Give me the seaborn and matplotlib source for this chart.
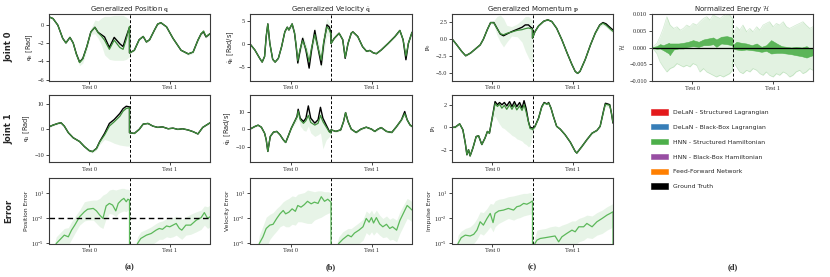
import numpy as np
import seaborn as sns
import matplotlib
matplotlib.use("Agg")
import matplotlib.pyplot as plt
from matplotlib.patches import Patch
from matplotlib.ticker import NullLocator

# time axis: 0-100 = Test 0, 100-200 = Test 1 (percent of each test)

# ---- joint 0 position q0
q0_t = [0, 5, 11, 17, 21, 26, 30, 34, 38, 42, 47, 52, 57, 61, 65, 69, 75, 81, 88, 92, 96, 100,
        100, 106, 112, 117, 121, 125, 131, 135, 139, 146, 154, 164, 173, 179, 185, 189, 192, 195, 200]
q0_true = [0.84, 0.65, -0.07, -1.5, -2.0, -1.4, -2.0, -3.2, -4.1, -3.7, -2.4, -0.8, -0.3, -0.85, -1.1, -1.35, -2.5, -1.4, -2.1, -2.4, -1.3, -0.3,
           -3.1, -2.8, -1.65, -1.3, -1.9, -1.65, -0.6, 0.05, 0.2, -0.25, -1.5, -2.8, -3.2, -3.0, -1.7, -1.0, -0.8, -1.35, -1.0]
q0_pred = [0.84, 0.65, -0.07, -1.5, -2.0, -1.4, -2.0, -3.25, -4.15, -3.75, -2.4, -0.8, -0.3, -0.9, -1.25, -1.7, -2.7, -1.7, -2.5, -2.7, -1.6, -0.2,
           -3.1, -2.8, -1.65, -1.3, -1.9, -1.65, -0.6, 0.05, 0.2, -0.25, -1.5, -2.8, -3.2, -3.0, -1.7, -1.0, -0.7, -1.3, -1.0]
q0_lo = [0.75, 0.55, -0.15, -1.6, -2.1, -1.5, -2.1, -3.4, -4.5, -4.2, -2.8, -1.1, -1.0, -1.5, -2.2, -3.3, -3.8, -3.9, -3.9, -3.9, -3.8, -3.5,
         -3.2, -2.9, -1.75, -1.4, -2.0, -1.75, -0.7, -0.05, 0.1, -0.35, -1.6, -2.9, -3.35, -3.15, -1.85, -1.2, -1.0, -1.5, -1.15]
q0_hi = [0.9, 0.75, 0.0, -1.4, -1.9, -1.3, -1.9, -3.0, -3.8, -3.3, -2.1, -0.45, 0.5, 0.4, 0.7, 0.9, 0.9, 1.0, 1.0, 1.0, 0.8, 0.5,
         -3.0, -2.7, -1.55, -1.2, -1.8, -1.55, -0.5, 0.15, 0.3, -0.15, -1.4, -2.7, -3.05, -2.85, -1.55, -0.85, -0.55, -1.2, -0.85]

# ---- joint 1 position q1
q1_t = [0, 5, 11, 15, 19, 24, 30, 38, 44, 50, 54, 59, 63, 69, 75, 81, 88, 92, 96, 100,
        100, 106, 112, 117, 123, 129, 135, 141, 148, 154, 160, 166, 173, 179, 185, 191, 200]
q1_true = [1.0, 1.7, 2.35, 2.6, 1.3, -1.3, -3.3, -4.8, -6.8, -8.4, -8.8, -7.5, -4.8, -1.6, 2.35, 3.9, 6.3, 8.2, 9.15, 8.9,
           -1.3, -1.6, 0.0, 2.1, 2.35, 1.3, 0.8, 1.0, 0.25, 0.5, 0.0, 0.25, -0.25, -0.9, -1.8, 0.8, 2.6]
q1_pred = [1.0, 1.7, 2.35, 2.6, 1.3, -1.3, -3.3, -4.8, -6.8, -8.4, -8.8, -7.6, -5.0, -2.2, 1.3, 3.0, 5.2, 7.2, 8.3, 8.5,
           -1.3, -1.6, 0.0, 2.1, 2.35, 1.3, 0.8, 1.0, 0.25, 0.5, 0.0, 0.25, -0.25, -0.9, -1.8, 0.8, 2.6]
q1_lo = [0.7, 1.4, 2.0, 2.3, 1.0, -1.6, -3.6, -5.2, -7.2, -8.9, -9.3, -8.2, -6.0, -4.0, -4.6, -5.5, -6.2, -6.4, -6.6, -6.6,
         -1.5, -1.8, -0.2, 1.9, 2.15, 1.1, 0.6, 0.8, 0.05, 0.3, -0.2, 0.05, -0.45, -1.1, -2.0, 0.6, 2.3]
q1_hi = [1.3, 2.0, 2.7, 2.9, 1.6, -1.0, -3.0, -4.4, -6.4, -7.9, -8.3, -6.9, -4.4, -1.2, 2.6, 4.2, 6.6, 8.5, 9.3, 9.1,
         -1.1, -1.4, 0.2, 2.3, 2.55, 1.5, 1.0, 1.2, 0.45, 0.7, 0.2, 0.45, -0.05, -0.7, -1.6, 1.0, 2.9]

# ---- position error (log10)
perr_t = [0, 7, 9, 15, 19, 24, 28, 32, 38, 44, 48, 55, 59, 63, 67, 71, 75, 79, 83, 86, 90, 93, 96, 98, 100,
          100, 108, 110, 114, 121, 127, 133, 137, 141, 146, 150, 154, 158, 162, 165, 170, 176, 183, 189, 193, 197, 200]
perr_pred = [-6, -6, -5, -4.4, -4.0, -4.2, -3.4, -2.8, -1.8, -1.2, -0.9, -0.8, -1.1, -1.6, -2.0, -0.5, -0.2, -0.4, -1.1, -0.2, 0.2, 0.4, 0.0, 0.3, 0.2,
             -6, -6, -5, -4.4, -4.0, -3.8, -3.4, -3.2, -3.3, -2.9, -3.0, -2.8, -2.6, -3.2, -3.4, -2.8, -2.8, -2.2, -1.9, -1.3, -2.0, -1.8]
perr_lo = [-6, -6, -6, -6, -5.5, -5.2, -4.5, -3.8, -2.8, -2.3, -2.2, -2.2, -2.6, -3.0, -3.2, -2.0, -1.4, -1.5, -1.8, -1.4, -1.2, -1.1, -1.2, -1.0, -1.0,
           -6, -6, -6, -6, -5.5, -5.2, -4.8, -4.5, -4.5, -4.2, -4.3, -4.2, -4.0, -4.3, -4.5, -4.0, -3.9, -3.6, -3.3, -2.8, -3.2, -3.0]
perr_hi = [-6, -5, -4.2, -3.6, -3.2, -3.1, -2.4, -1.8, -1.0, 0.0, 0.1, 0.2, 0.2, 0.4, 0.8, 1.0, 1.4, 1.5, 1.4, 1.5, 1.6, 1.6, 1.5, 1.5, 1.4,
           -6, -5, -4.2, -3.6, -3.3, -3.0, -2.6, -2.4, -2.3, -2.0, -2.1, -1.9, -1.7, -2.0, -2.1, -1.8, -1.5, -1.2, -1.0, -0.5, -0.6, -0.4]
perr_threshold = 1e-2

# ---- joint 0 velocity
qd0_t = [0, 6, 12, 15, 18, 20, 22, 24.5, 28, 31, 35, 39, 43, 46, 48, 52, 55, 57, 59, 62, 65, 69, 73, 76, 80, 82, 88, 91, 95, 98, 100,
         100, 104, 110, 114.5, 117.5, 121, 125, 127, 133, 139, 144, 148, 152, 156, 162, 170.5, 179, 185, 189, 192.5, 195.5, 200]
qd0_true = [0, -1.3, -3.1, -3.9, -2.7, 1.6, 4.3, 0.1, -3.3, -3.9, -3.1, -0.6, 2.6, 3.6, 3.0, 4.3, 2.3, -0.6, -4.1, -1.3, 1.2, -1.3, -5.2, -1.3, 2.9, 0.9, -4.5, 0.1, 4.1, 3.6, 2.3,
            0.1, 1.2, 2.3, 0.9, -3.1, 0.1, 2.3, 2.6, 1.6, -0.6, -1.6, -1.4, -1.9, -2.1, -1.3, 0.1, 1.6, 2.9, 0.9, -3.4, 0.1, 2.5]
qd0_pred = [0, -1.3, -3.1, -3.9, -2.7, 1.6, 4.3, 0.1, -3.3, -3.9, -3.1, -0.6, 2.6, 3.6, 3.0, 4.3, 2.3, -0.4, -3.6, -1.0, 0.7, -1.0, -3.8, -0.8, 2.0, 0.5, -3.5, 0.5, 3.7, 3.0, 2.0,
            0.1, 1.2, 2.3, 0.9, -2.9, 0.1, 2.3, 2.6, 1.6, -0.6, -1.6, -1.4, -1.9, -2.1, -1.3, 0.1, 1.6, 2.9, 0.9, -2.6, 0.1, 2.5]
qd0_spread = [0.15, 0.15, 0.15, 0.15, 0.15, 0.15, 0.2, 0.15, 0.15, 0.15, 0.15, 0.15, 0.2, 0.3, 0.3, 0.4, 0.8, 1.0, 1.2, 1.0, 1.2, 1.2, 1.5, 1.2, 1.5, 1.5, 1.8, 2.5, 1.8, 1.5, 1.5,
              0.15, 0.15, 0.15, 0.2, 0.3, 0.2, 0.15, 0.15, 0.15, 0.15, 0.15, 0.15, 0.15, 0.15, 0.15, 0.15, 0.2, 0.3, 0.3, 0.6, 0.3, 0.3]

# ---- joint 1 velocity
qd1_t = [0, 6, 10, 14, 18, 20, 22, 25, 29, 33, 37, 41, 44, 47, 51, 55, 58, 59.5, 62, 66, 69, 72, 75, 80, 84, 87, 90, 94, 98, 100,
         100, 106, 112, 115.5, 118, 121, 125, 131, 137, 143.5, 150, 154, 158, 162, 168.5, 175, 181, 187, 191, 194, 197.5, 200]
qd1_true = [0.2, 1.7, 2.45, 1.3, -2.1, -5.8, -12.5, -4.0, -1.5, -1.1, -3.0, -5.8, -7.4, -4.0, 0.75, 4.5, 7.4, 11.5, 6.4, 4.5, 6.4, 13.4, 6.4, 3.6, 5.5, 12.6, 6.4, 2.6, -1.1, -1.7,
            -0.2, -1.1, -0.2, 4.5, 9.6, 4.5, 0.2, -1.7, 0.2, 1.3, 0.2, -1.1, 0.2, 1.1, -1.1, -1.7, 1.7, 5.5, 10.2, 5.5, 2.6, 1.7]
qd1_pred = [0.2, 1.7, 2.45, 1.3, -2.1, -5.8, -12.5, -4.0, -1.5, -1.1, -3.0, -5.8, -7.4, -4.0, 0.75, 4.5, 7.0, 10.5, 5.5, 3.5, 5.0, 8.0, 4.0, 2.5, 3.5, 8.0, 4.5, 1.5, -1.5, -2.0,
            -0.2, -1.1, -0.2, 4.5, 9.6, 4.5, 0.2, -1.7, 0.2, 1.3, 0.2, -1.1, 0.2, 1.1, -1.1, -1.7, 1.7, 5.5, 9.0, 5.5, 2.6, 1.7]
qd1_lo = [-0.2, 1.3, 2.05, 0.9, -2.5, -6.2, -12.9, -4.4, -1.9, -1.5, -3.4, -6.2, -7.8, -4.8, 0.0, 3.0, 5.0, 7.5, 2.0, -0.5, -1.0, 2.0, -2.0, -4.0, -3.0, -2.0, -11.0, -6.0, -4.0, -3.0,
          -0.8, -1.7, -0.8, 3.9, 9.0, 3.9, -0.4, -2.3, -0.4, 0.7, -0.4, -1.7, -0.4, 0.5, -1.7, -2.3, 1.1, 4.7, 7.8, 4.7, 1.8, 0.9]
qd1_hi = [0.6, 2.1, 2.85, 1.7, -1.7, -5.4, -12.1, -3.6, -1.1, -0.7, -2.6, -5.4, -7.0, -3.2, 1.5, 5.0, 8.0, 12.0, 7.0, 5.5, 7.0, 12.0, 7.0, 4.5, 6.0, 12.0, 7.0, 3.0, -0.5, -1.5,
          0.4, -0.5, 0.4, 5.1, 10.2, 5.1, 0.8, -1.1, 0.8, 1.9, 0.8, -0.5, 0.8, 1.7, -0.5, -1.1, 2.3, 6.3, 10.6, 6.3, 3.4, 2.5]

# ---- velocity error (log10)
verr_t = [0, 10, 11.5, 16, 20, 24.5, 28.5, 33, 37, 41, 44, 48, 52, 56, 59, 63, 67, 71, 75.5, 79.5, 84, 88, 92, 96, 100,
          100, 106, 109.5, 114.5, 121, 125, 129, 134.5, 139.5, 143.5, 147, 150, 152.5, 156, 160, 164, 168.5, 172.5, 176, 181, 185, 190, 194, 197.5, 200]
verr_pred = [-6, -6, -5, -4.2, -3.2, -2.8, -2.7, -2.0, -1.45, -1.05, -1.45, -1.25, -0.85, -1.15, -0.45, -0.65, -0.35, 0.05, -0.25, -0.05, -0.2, 0.6, 0.05, 0.3, -0.05,
             -6, -6, -5, -4.5, -4.0, -4.2, -3.75, -3.4, -3.0, -2.0, -2.45, -1.9, -2.55, -1.9, -2.65, -3.0, -2.7, -3.2, -3.0, -3.4, -2.25, -1.25, -0.45, -0.75, -1.0]
verr_lo = [-6, -6, -6, -6, -5.5, -4.5, -4.0, -3.5, -3.0, -2.8, -3.0, -3.0, -2.7, -2.8, -2.4, -2.4, -2.5, -2.6, -2.6, -2.2, -2.0, -1.85, -1.6, -1.4, -1.25,
           -6, -6, -6, -6, -6, -6, -5.5, -5.0, -4.6, -3.7, -4.0, -3.6, -4.0, -3.6, -4.0, -4.3, -4.2, -4.6, -4.5, -4.8, -3.8, -2.8, -2.0, -2.2, -2.4]
verr_hi = [-6, -5, -4.0, -2.9, -1.85, -1.5, -1.3, -0.8, -0.45, 0.0, 0.2, 0.4, 0.7, 0.6, 0.9, 1.0, 1.1, 1.4, 1.3, 1.2, 1.3, 1.3, 1.2, 1.2, 1.1,
           -6, -5.5, -4.2, -3.6, -3.2, -3.2, -2.9, -2.5, -2.1, -1.1, -1.4, -1.0, -1.5, -1.0, -1.6, -2.0, -1.7, -2.1, -1.9, -2.2, -1.2, -0.3, 0.4, 0.2, 0.0]

# ---- joint 0 momentum
p0_t = [0, 6, 12, 17, 23, 29, 35, 39, 44, 48, 52, 56, 60, 64, 68, 74, 81, 87, 91, 95, 98, 100,
        100, 103, 107.5, 114, 119, 124, 130, 136.5, 143, 149, 153, 156, 159, 165.5, 172, 178, 183.5, 187.5, 191.5, 196, 200]
p0_true = [0, -0.9, -1.85, -2.5, -2.1, -1.5, -0.9, -0.05, 1.4, 2.4, 2.4, 1.55, 0.7, 0.45, 0.7, 1.05, 1.4, 1.7, 2.05, 2.05, 1.7, 1.55,
           0.1, 1.05, 1.9, 2.6, 2.8, 2.55, 1.55, -0.15, -2.1, -3.8, -4.8, -5.1, -4.8, -3.05, -0.9, 0.85, 2.05, 2.4, 2.2, 1.7, 1.3]
p0_pred = [0, -0.9, -1.85, -2.5, -2.1, -1.5, -0.9, -0.05, 1.4, 2.4, 2.35, 1.5, 0.75, 0.6, 0.8, 1.0, 1.25, 1.35, 1.5, 1.6, 1.5, 1.4,
           0.1, 1.05, 1.9, 2.6, 2.8, 2.55, 1.55, -0.15, -2.1, -3.8, -4.8, -5.1, -4.8, -3.05, -0.9, 0.85, 2.0, 2.3, 2.0, 1.5, 1.1]
p0_lo = [-0.1, -1.0, -1.95, -2.6, -2.2, -1.6, -1.0, -0.15, 1.3, 2.3, 2.0, 0.5, -0.5, -1.2, -0.5, 0.4, 0.3, -0.5, -1.8, -2.8, -3.5, -4.0,
         0.0, 0.95, 1.8, 2.5, 2.7, 2.45, 1.45, -0.25, -2.2, -3.9, -4.9, -5.2, -4.9, -3.15, -1.0, 0.7, 1.7, 2.0, 1.7, 1.2, 0.8]
p0_hi = [0.1, -0.8, -1.75, -2.4, -2.0, -1.4, -0.8, 0.05, 1.5, 2.5, 2.7, 3.3, 3.5, 3.0, 2.0, 1.8, 2.2, 2.8, 3.3, 3.3, 3.0, 2.6,
         0.2, 1.15, 2.0, 2.7, 2.9, 2.65, 1.65, -0.05, -2.0, -3.7, -4.7, -5.0, -4.7, -2.95, -0.8, 1.0, 2.3, 2.6, 2.4, 1.9, 1.5]

# ---- joint 1 momentum
p1_t = [0, 4, 9.5, 13.5, 16.5, 18.5, 20.5, 22.5, 26, 30, 33, 37, 41, 44, 46.5, 49.5, 53.5, 56.5, 59, 62, 65, 68, 71.5, 74.5, 77.5, 80.5, 84, 87, 89.5, 92, 95, 97, 100,
        100, 103, 107.5, 111.5, 114.5, 118, 120, 123, 126, 130, 134.5, 140.5, 147, 153, 155, 161.5, 167.5, 174, 180, 184, 188.5, 190.5, 193.5, 196, 198, 200]
p1_true = [0, 0.03, 0.32, -0.2, -1.37, -2.4, -1.95, -2.5, -1.8, -0.8, -0.73, -1.5, -0.93, -0.35, -0.5, 0.67, 2.28, 2.0, 2.2, 2.0, 2.2, 1.9, 2.28, 1.84, 2.28, 1.84, 2.2, 1.7, 2.36, 1.7, 0.5, 0.03, -0.06,
           -0.06, 0.1, 0.82, 1.84, 2.2, 2.07, 2.2, 1.7, 0.96, 0.1, -0.15, -0.64, -1.3, -2.1, -2.25, -1.66, -1.08, -0.5, -0.26, 0.1, 1.55, 2.13, 2.07, 2.0, 1.26, 0.38]
p1_pred = [0, 0.03, 0.32, -0.2, -1.37, -2.4, -1.95, -2.5, -1.8, -0.8, -0.73, -1.5, -0.93, -0.35, -0.5, 0.67, 2.1, 1.85, 2.05, 1.7, 1.95, 1.6, 2.0, 1.6, 2.0, 1.55, 1.9, 1.5, 2.0, 1.4, 0.5, -0.1, -0.15,
           -0.2, 0.05, 0.8, 1.8, 2.15, 2.05, 2.15, 1.7, 0.96, 0.1, -0.15, -0.64, -1.3, -2.1, -2.25, -1.66, -1.08, -0.5, -0.26, 0.1, 1.5, 2.05, 2.0, 1.95, 1.3, 0.45]
p1_lo = [-0.1, -0.07, 0.22, -0.3, -1.47, -2.5, -2.05, -2.6, -1.9, -0.9, -0.83, -1.6, -1.03, -0.45, -0.6, 0.57, 1.0, 0.6, 0.3, 0.0, -0.1, -0.3, -0.5, -0.7, -0.8, -1.0, -1.1, -1.2, -1.4, -1.5, -1.7, -1.6, -0.5,
         -0.28, -0.03, 0.72, 1.72, 2.07, 1.97, 2.07, 1.62, 0.88, 0.02, -0.23, -0.72, -1.38, -2.18, -2.33, -1.74, -1.16, -0.58, -0.34, 0.0, 1.3, 1.85, 1.8, 1.75, 1.1, 0.25]
p1_hi = [0.1, 0.13, 0.42, -0.1, -1.27, -2.3, -1.85, -2.4, -1.7, -0.7, -0.63, -1.4, -0.83, -0.25, -0.4, 0.77, 2.38, 2.1, 2.3, 2.1, 2.3, 2.0, 2.38, 1.94, 2.38, 1.94, 2.3, 1.8, 2.46, 1.8, 0.6, 0.13, 0.04,
         -0.12, 0.13, 0.88, 1.88, 2.23, 2.13, 2.23, 1.78, 1.04, 0.18, -0.07, -0.56, -1.22, -2.02, -2.17, -1.58, -1.0, -0.42, -0.18, 0.2, 1.7, 2.25, 2.2, 2.15, 1.5, 0.65]

# ---- impulse error (log10)
ierr_t = [0, 6, 7.5, 11.5, 16.5, 22.5, 27, 31, 35, 39, 43.5, 47.5, 51, 53.5, 58, 64, 70, 76.5, 80.5, 84.5, 89, 93, 97, 100,
          100, 103, 105.5, 109.5, 116, 122, 128, 132.5, 136.5, 142.5, 149, 153, 157.5, 163.5, 167.5, 174, 180, 186.5, 192.5, 196.5, 200, 200]
ierr_pred = [-6, -6, -5, -4.3, -4.0, -4.1, -3.9, -3.4, -2.4, -2.8, -2.0, -1.4, -2.5, -1.4, -1.1, -1.0, -0.8, -1.0, -0.6, -0.5, -0.2, -0.3, -0.1, 0.1,
             -6, -5, -4.6, -4.4, -4.3, -4.2, -4.1, -4.8, -4.2, -3.8, -3.4, -3.6, -3.0, -3.0, -2.6, -3.0, -2.4, -2.0, -1.6, -1.4, -1.2, -6]
ierr_lo = [-6, -6, -6, -6, -5.5, -5.2, -5.0, -4.5, -3.8, -4.0, -3.5, -3.0, -3.6, -3.0, -2.6, -2.3, -2.0, -2.2, -2.0, -1.9, -1.7, -1.6, -1.5, -1.4,
           -6, -6, -6, -6, -6, -6, -6, -6, -6, -5.5, -5.2, -5.2, -4.8, -4.6, -4.3, -4.4, -4.0, -3.8, -3.4, -3.2, -3.0, -6]
ierr_hi = [-6, -5, -4.0, -3.5, -3.2, -3.0, -2.6, -2.0, -1.2, -1.3, -0.8, -0.2, -0.3, 0.1, 0.3, 0.4, 0.6, 0.7, 0.8, 0.9, 1.0, 1.0, 1.1, 1.1,
           -6, -4.2, -3.4, -3.3, -3.2, -3.0, -2.9, -3.0, -2.8, -2.6, -2.3, -2.3, -2.0, -1.8, -1.6, -1.7, -1.3, -1.0, -0.6, -0.4, -0.2, -6]

# ---- normalized energy
en_true_t = [0, 200]
en_true = [0.0, 0.0]
en_core_t = [0, 6, 10, 14, 21, 22, 27, 33, 39, 45, 51, 58, 64, 70, 76, 80, 86, 93, 99, 100,
             100, 105, 111, 117, 124, 130, 136, 142, 148, 155, 161, 167, 173, 179, 186, 192, 196, 200]
en_core_hi = [0.0001, 0.0004, 0.001, 0.0007, 0.0014, 0.0012, 0.0012, 0.0012, 0.0014, 0.0017, 0.0022, 0.0017, 0.0024, 0.0027, 0.003, 0.0024, 0.0032, 0.0034, 0.003, 0.0027,
              0.0007, 0.0017, 0.0014, 0.0012, 0.0007, 0.0012, 0.0002, 0.0007, 0.0022, 0.0012, 0.0004, 0.0002, 0.0, 0.0002, 0.0, 0.0004, -0.0003, 0.0]
en_core_lo = [-0.0001, -0.0004, -0.0003, -0.0008, -0.0018, -0.0023, -0.0006, -0.0003, -0.0003, 0.0002, 0.0004, 0.0002, 0.0007, 0.0007, 0.001, 0.0002, 0.0012, 0.001, 0.0007, 0.0004,
              -0.0003, -0.0006, -0.0008, -0.0006, -0.0008, -0.001, -0.0013, -0.001, -0.0018, -0.0016, -0.0016, -0.0018, -0.002, -0.0023, -0.0026, -0.003, -0.0026, -0.0023]
en_band_t = [0, 6, 10, 14, 18.5, 22.5, 27, 31, 35, 39, 43, 47, 51, 55.5, 59.5, 64, 68, 72, 76, 80, 84.5, 88.5, 92.5, 96.5, 100,
             100, 105, 109, 113, 117.5, 121.5, 125.5, 130, 134, 138, 142, 146, 150.5, 154.5, 158.5, 163, 167, 171, 175, 179, 183.5, 187.5, 191.5, 196, 200]
en_band_hi = [0, 0.0012, 0.0032, 0.0057, 0.0092, 0.0067, 0.0057, 0.0062, 0.0052, 0.0057, 0.0067, 0.0062, 0.0072, 0.0067, 0.0077, 0.0087, 0.0092, 0.0082, 0.0097, 0.0092, 0.0087, 0.0094, 0.0100, 0.0097, 0.0087,
              0.0032, 0.0062, 0.0052, 0.0067, 0.0047, 0.0057, 0.0047, 0.0062, 0.0052, 0.0067, 0.0072, 0.0077, 0.0062, 0.0072, 0.0067, 0.0077, 0.0062, 0.0057, 0.0062, 0.0067, 0.0072, 0.0077, 0.0067, 0.0057, 0.0062]
en_band_lo = [0, -0.0018, -0.0043, -0.0058, -0.0073, -0.0063, -0.0058, -0.0048, -0.0053, -0.0058, -0.0053, -0.0058, -0.0048, -0.0053, -0.0073, -0.0063, -0.0073, -0.0078, -0.0083, -0.0088, -0.0083, -0.0088, -0.0083, -0.0078, -0.0068,
              -0.0038, -0.0058, -0.0073, -0.0078, -0.0068, -0.0073, -0.0063, -0.0068, -0.0078, -0.0083, -0.0073, -0.0083, -0.0088, -0.0078, -0.0083, -0.0073, -0.0078, -0.0088, -0.0083, -0.0073, -0.0068, -0.0078, -0.0073, -0.0063, -0.0068]

legend_labels = ["DeLaN - Structured Lagrangian", "DeLaN - Black-Box Lagrangian",
                 "HNN - Structured Hamiltonian", "HNN - Black-Box Hamiltonian",
                 "Feed-Forward Network", "Ground Truth"]
legend_colors = ["#e41a1c", "#377eb8", "#4daf4a", "#984ea3", "#ff7f00", "black"]

sns.set_style("ticks")
plt.rcParams["font.family"] = ["Liberation Serif"]
plt.rcParams["mathtext.fontset"] = "cm"

GREEN = "#4daf4a"
GREEN_LINE = "#3e8e3b"
SANS = "DejaVu Sans"

fig = plt.figure(figsize=(8.3, 2.77), dpi=100)
W, H = 830, 277


def add_ax(left, top, w, h):
    return fig.add_axes([left / W, 1 - (top + h) / H, w / W, h / H])


def finish(ax, ylim, yticks, ylabel, title=None, ylab_size=4.8):
    ax.set_xlim(0, 200)
    ax.set_ylim(*ylim)
    ax.set_xticks([50, 150], ["Test 0", "Test 1"])
    ax.set_yticks(yticks)
    ax.axvline(100, color="black", lw=0.7, ls=(0, (3, 2)), zorder=1.5)
    ax.tick_params(labelsize=4.5, length=2, width=0.6, pad=1.5)
    ax.set_ylabel(ylabel, fontsize=ylab_size, family=SANS, labelpad=2)
    for s in ax.spines.values():
        s.set_linewidth(0.8)
        s.set_color("#3a3a3a")
    if title:
        ax.set_title(title, fontsize=5, family=SANS, pad=2)


def state_panel(ax, t, truth, pred, lo, hi):
    ax.fill_between(t, lo, hi, color=GREEN, alpha=0.13, lw=0)
    sns.lineplot(x=t, y=truth, ax=ax, color="black", lw=1.0, sort=False, estimator=None)
    sns.lineplot(x=t, y=pred, ax=ax, color=GREEN_LINE, lw=0.9, sort=False, estimator=None)


def error_panel(ax, t, pred, lo, hi):
    ax.set_yscale("log")
    ax.fill_between(t, 10.0 ** np.array(lo), 10.0 ** np.array(hi), color=GREEN, alpha=0.13, lw=0)
    sns.lineplot(x=t, y=10.0 ** np.array(pred), ax=ax, color="#5cb85a", lw=0.9, sort=False, estimator=None)


cols = [49, 250, 452, 652]
widths = [161, 162, 161, 161]
tops = [14, 95, 177.5]
heights = [66.5, 67, 66]

# column (a)
ax = add_ax(cols[0], tops[0], widths[0], heights[0])
state_panel(ax, q0_t, q0_true, q0_pred, q0_lo, q0_hi)
finish(ax, (-6.1, 1.15), [-6, -4, -2, 0], r"$\mathbf{q}_0$ [Rad]", r"Generalized Position $\mathbf{q}$")

ax = add_ax(cols[0], tops[1], widths[0], heights[1])
state_panel(ax, q1_t, q1_true, q1_pred, q1_lo, q1_hi)
finish(ax, (-12.9, 13.6), [-10, 0, 10], r"$\mathbf{q}_1$ [Rad]")

ax = add_ax(cols[0], tops[2], widths[0], heights[2])
error_panel(ax, perr_t, perr_pred, perr_lo, perr_hi)
ax.axhline(perr_threshold, color="black", lw=1.0, ls=(0, (4, 2.5)), zorder=3)
finish(ax, (1e-5, 10 ** 2.9), [1e-5, 1e-2, 1e1], "Position Error", ylab_size=4.3)
ax.yaxis.set_minor_locator(NullLocator())

# column (b)
ax = add_ax(cols[1], tops[0], widths[1], heights[0])
state_panel(ax, qd0_t, qd0_true, qd0_pred,
            np.subtract(qd0_pred, qd0_spread), np.add(qd0_pred, qd0_spread))
finish(ax, (-7.86, 6.43), [-5, 0, 5], r"$\dot{\mathbf{q}}_0$ [Rad/s]", r"Generalized Velocity $\dot{\mathbf{q}}$")

ax = add_ax(cols[1], tops[1], widths[1], heights[1])
state_panel(ax, qd1_t, qd1_true, qd1_pred, qd1_lo, qd1_hi)
finish(ax, (-18.5, 19.6), [-10, 0, 10], r"$\dot{\mathbf{q}}_1$ [Rad/s]")

ax = add_ax(cols[1], tops[2], widths[1], heights[2])
error_panel(ax, verr_t, verr_pred, verr_lo, verr_hi)
finish(ax, (1e-5, 10 ** 2.9), [1e-5, 1e-2, 1e1], "Velocity Error", ylab_size=4.3)
ax.yaxis.set_minor_locator(NullLocator())

# column (c)
ax = add_ax(cols[2], tops[0], widths[2], heights[0])
state_panel(ax, p0_t, p0_true, p0_pred, p0_lo, p0_hi)
finish(ax, (-6.15, 3.66), [-5, -2.5, 0, 2.5], r"$\mathbf{p}_0$", r"Generalized Momentum $\mathbf{p}$")
ax.set_yticklabels(["\u22125.0", "\u22122.5", "0.0", "2.5"])

ax = add_ax(cols[2], tops[1], widths[2], heights[1])
state_panel(ax, p1_t, p1_true, p1_pred, p1_lo, p1_hi)
finish(ax, (-3.04, 2.86), [-2, 0, 2], r"$\mathbf{p}_1$")

ax = add_ax(cols[2], tops[2], widths[2], heights[2])
error_panel(ax, ierr_t, ierr_pred, ierr_lo, ierr_hi)
finish(ax, (1e-5, 10 ** 2.9), [1e-5, 1e-2, 1e1], "Impulse Error", ylab_size=4.3)
ax.yaxis.set_minor_locator(NullLocator())

# column (d)
ax = add_ax(cols[3], 14, widths[3], 67)
ax.fill_between(en_band_t, en_band_lo, en_band_hi, color=GREEN, alpha=0.16, lw=0)
ax.plot(en_band_t, en_band_hi, color=GREEN, alpha=0.25, lw=0.5)
ax.plot(en_band_t, en_band_lo, color=GREEN, alpha=0.25, lw=0.5)
ax.fill_between(en_core_t, en_core_lo, en_core_hi, color=GREEN, alpha=0.9, lw=0.4)
sns.lineplot(x=en_true_t, y=en_true, ax=ax, color="black", lw=0.9, estimator=None)
finish(ax, (-0.01, 0.01), [-0.01, -0.005, 0, 0.005, 0.01], r"$\mathcal{H}$", r"Normalized Energy $\mathcal{H}$")
ax.set_yticklabels(["\u22120.010", "\u22120.005", "0.000", "0.005", "0.010"])

# row labels
for y, lab in [(47, "Joint 0"), (128.5, "Joint 1"), (210.5, "Error")]:
    fig.text(9 / W, 1 - y / H, lab, rotation=90, ha="center", va="center",
             fontsize=6, weight="bold", family=SANS)

# panel letters
for c, w, lab in zip(cols, widths, ["(a)", "(b)", "(c)", "(d)"]):
    fig.text((c + w / 2) / W, 1 - 267 / H, lab, ha="center", va="center",
             fontsize=6, weight="bold")

handles = [Patch(facecolor=c, edgecolor=c, lw=0.4) for c in legend_colors]
fig.legend(handles, legend_labels, loc="upper left", bbox_to_anchor=(649 / W, 1 - 107 / H),
           frameon=False, prop={"family": SANS, "size": 4.4}, handlelength=2.7,
           handleheight=0.9, handletextpad=0.8, labelspacing=1.5, borderaxespad=0)

fig.savefig("out.png", dpi=100)
